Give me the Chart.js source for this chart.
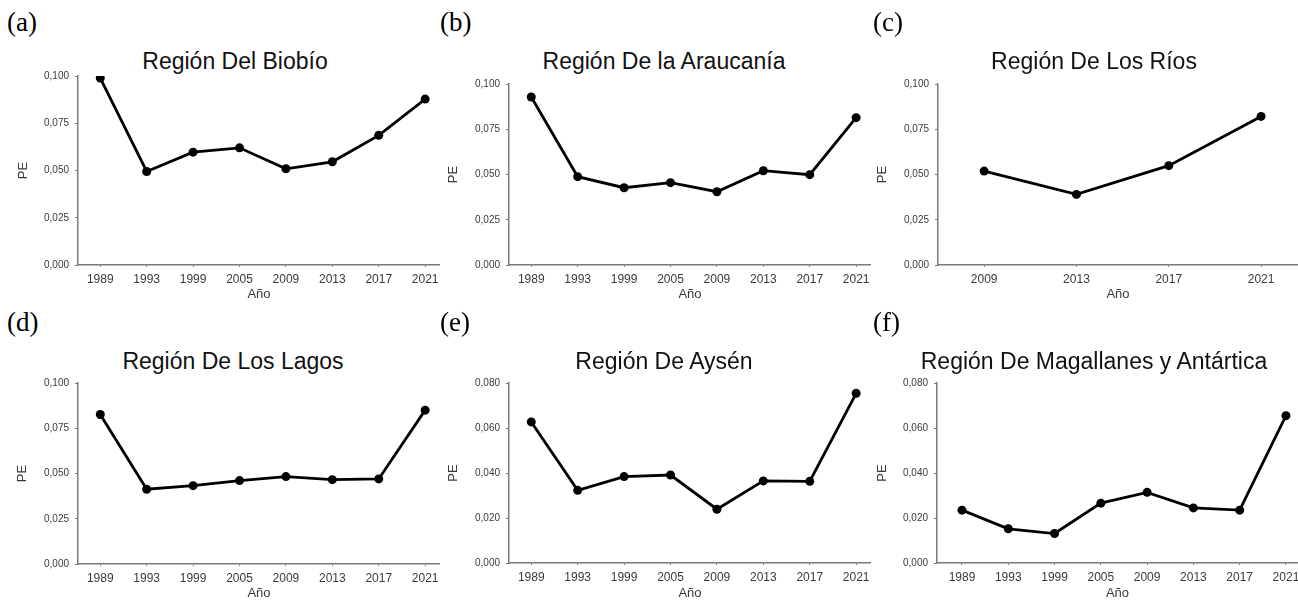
<!DOCTYPE html>
<html lang="es">
<head>
<meta charset="UTF-8">
<title>PE por región</title>
<script src="https://cdn.jsdelivr.net/npm/chart.js"></script>
<style>
  body { margin: 0; background: #fff; }
  #wrap { position: relative; width: 1298px; height: 601px; overflow: hidden; }
  canvas { position: absolute; }
  .tag { position: absolute; font: 27px/27px "Liberation Serif", "Times New Roman", serif; color: #000; }
  .ttl { position: absolute; width: 420px; margin-left: -210px; text-align: center;
         font: 23px/23px "Liberation Sans", Arial, sans-serif; color: #111; white-space: nowrap; }
</style>
</head>
<body>
<div id="wrap"></div>
<script>
// years on the x axis
const years8 = ['1989', '1993', '1999', '2005', '2009', '2013', '2017', '2021'];
const years4 = ['2009', '2013', '2017', '2021'];

// y tick values
const ticks100 = [0, 0.025, 0.05, 0.075, 0.1];
const ticks080 = [0, 0.02, 0.04, 0.06, 0.08];

// PE values
const biobio     = [0.0989, 0.0495, 0.0597, 0.0620, 0.0509, 0.0546, 0.0686, 0.0878];
const araucania  = [0.0928, 0.0488, 0.0427, 0.0455, 0.0405, 0.0521, 0.0499, 0.0814];
const rios       = [0.0519, 0.0390, 0.0549, 0.0821];
const lagos      = [0.0826, 0.0413, 0.0433, 0.0461, 0.0483, 0.0466, 0.0470, 0.0850];
const aysen      = [0.0627, 0.0323, 0.0384, 0.0391, 0.0239, 0.0365, 0.0363, 0.0754];
const magallanes = [0.0235, 0.0152, 0.0131, 0.0266, 0.0314, 0.0245, 0.0235, 0.0655];

const panels = [
  { tag: '(a)', title: 'Región Del Biobío', labels: years8, values: biobio, yt: ticks100,
    left: 0, top: 0, w: 440, h: 304, padTop: 76, yW: 78, xH: 39, xMin: -0.48, xMax: 7.32, peOff: 23.4, cx: 235, xtPad: 2 },
  { tag: '(b)', title: 'Región De la Araucanía', labels: years8, values: araucania, yt: ticks100,
    left: 433, top: 0, w: 438, h: 304, padTop: 84, yW: 76, xH: 39, xMin: -0.48, xMax: 7.32, peOff: 20.4, cx: 664, xtPad: 2 },
  { tag: '(c)', title: 'Región De Los Ríos', labels: years4, values: rios, yt: ticks100,
    left: 866, top: 0, w: 432, h: 304, padTop: 84, yW: 72, xH: 39, xMin: -0.5, xMax: 3.4, peOff: 16.4, cx: 1094, xtPad: 2 },
  { tag: '(d)', title: 'Región De Los Lagos', labels: years8, values: lagos, yt: ticks100,
    left: 0, top: 300, w: 440, h: 301, padTop: 83, yW: 78, xH: 37, xMin: -0.48, xMax: 7.32, peOff: 22.4, cx: 233, xtPad: 0 },
  { tag: '(e)', title: 'Región De Aysén', labels: years8, values: aysen, yt: ticks080,
    left: 433, top: 300, w: 438, h: 301, padTop: 83, yW: 76, xH: 38, xMin: -0.48, xMax: 7.32, peOff: 20.4, cx: 664, xtPad: 0 },
  { tag: '(f)', title: 'Región De Magallanes y Antártica', labels: years8, values: magallanes, yt: ticks080,
    left: 866, top: 300, w: 432, h: 301, padTop: 83, yW: 71, xH: 38, xMin: -0.54, xMax: 7.26, peOff: 16.4, cx: 1094, xtPad: 0 }
];

const wrap = document.getElementById('wrap');
const axisGray = '#7a7a7a';
const textGray = '#3a3a3a';
const sans = '"Liberation Sans", Arial, sans-serif';

panels.forEach(p => {
  const tag = document.createElement('div');
  tag.className = 'tag';
  tag.style.left = (p.left + 7) + 'px';
  tag.style.top = (p.top + 9) + 'px';
  tag.textContent = p.tag;
  wrap.appendChild(tag);

  const ttl = document.createElement('div');
  ttl.className = 'ttl';
  ttl.style.left = p.cx + 'px';
  ttl.style.top = (p.top + 50) + 'px';
  ttl.textContent = p.title;
  wrap.appendChild(ttl);

  const cv = document.createElement('canvas');
  cv.width = p.w;
  cv.height = p.h;
  cv.style.left = p.left + 'px';
  cv.style.top = p.top + 'px';
  wrap.appendChild(cv);

  new Chart(cv.getContext('2d'), {
    type: 'line',
    data: {
      datasets: [{
        data: p.values.map((v, i) => ({ x: i, y: v })),
        borderColor: '#000',
        backgroundColor: '#000',
        borderWidth: 2.8,
        pointRadius: 4.5,
        pointBorderWidth: 0,
        tension: 0,
        clip: { left: 6, right: 6, top: 0, bottom: 6 }
      }]
    },
    options: {
      responsive: false,
      animation: false,
      layout: { autoPadding: false, padding: { top: p.padTop, left: 0, right: 0, bottom: 0 } },
      plugins: { legend: { display: false }, tooltip: { enabled: false } },
      scales: {
        x: {
          type: 'linear',
          min: p.xMin,
          max: p.xMax,
          afterBuildTicks: s => { s.ticks = p.labels.map((_, i) => ({ value: i })); },
          afterFit: s => { s.height = p.xH; s.paddingLeft = 0; s.paddingRight = 0; },
          border: { color: axisGray, width: 1.5 },
          grid: { drawOnChartArea: false, tickLength: 2, color: axisGray },
          ticks: {
            padding: 5,
            color: textGray,
            font: { family: sans, size: 12 },
            maxRotation: 0,
            autoSkip: false,
            callback: v => p.labels[v]
          },
          title: { display: true, text: 'Año', color: textGray,
                   font: { family: sans, size: 13 }, padding: { top: 0, bottom: p.xtPad } }
        },
        y: {
          min: 0,
          max: p.yt[p.yt.length - 1],
          afterBuildTicks: s => { s.ticks = p.yt.map(v => ({ value: v })); },
          afterFit: s => { s.width = p.yW; s.paddingTop = 0; s.paddingBottom = 0; },
          border: { color: axisGray, width: 1.5 },
          grid: { drawOnChartArea: false, tickLength: 3, color: axisGray },
          ticks: {
            padding: 6,
            color: textGray,
            font: { family: sans, size: 10 },
            callback: v => v.toFixed(3).replace('.', ',')
          },
          title: { display: true, text: 'PE', color: textGray,
                   font: { family: sans, size: 13 }, padding: { top: p.peOff - 7.8, bottom: 0 } }
        }
      }
    }
  });
});
</script>
</body>
</html>
